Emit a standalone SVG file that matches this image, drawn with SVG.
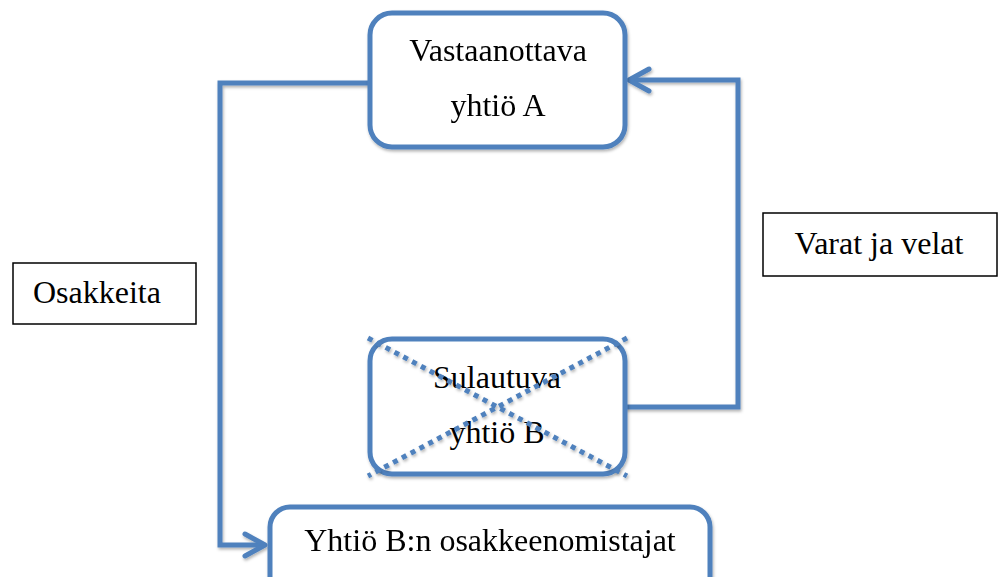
<svg xmlns="http://www.w3.org/2000/svg" width="999" height="577" viewBox="0 0 999 577">
<style>
.node{fill:#fff;stroke:#4F81BD;stroke-width:5}
.lbl{fill:#fff;stroke:#000;stroke-width:1.5}
.conn{fill:none;stroke:#4F81BD;stroke-width:5}
.x{fill:none;stroke:#4F81BD;stroke-width:5;stroke-dasharray:5 5}
text{font-family:"Liberation Serif","Times New Roman",serif;font-size:32px;fill:#000}
</style>
<defs>
<filter id="sh" x="-10%" y="-10%" width="120%" height="120%">
<feDropShadow dx="1" dy="2" stdDeviation="1.5" flood-color="#000" flood-opacity="0.3"/>
</filter>
<marker id="arr" markerUnits="userSpaceOnUse" viewBox="-25 -15 30 30" refX="0" refY="0" markerWidth="30" markerHeight="30" orient="auto">
<path d="M-20,-11 L0,0 L-20,11" fill="none" stroke="#4F81BD" stroke-width="5" stroke-linecap="round" stroke-linejoin="round"/>
</marker>
</defs>
<rect width="999" height="577" fill="#fff"/>
<g id="connectors" filter="url(#sh)">
<path class="conn" d="M372,83 H220 V545 H265" marker-end="url(#arr)"/>
<path class="conn" d="M624,407 H738 V80 H629" marker-end="url(#arr)"/>
</g>
<g id="nodeA" filter="url(#sh)">
<rect class="node" x="370" y="13" width="255" height="134" rx="22"/>
<text x="498" y="61" text-anchor="middle">Vastaanottava</text>
<text x="498" y="116" text-anchor="middle">yhtiö A</text>
</g>
<g id="nodeB">
<rect class="node" x="370" y="339" width="255" height="135" rx="22" filter="url(#sh)"/>
<text x="497" y="388" text-anchor="middle">Sulautuva</text>
<text x="497" y="443" text-anchor="middle">yhtiö B</text>
<g filter="url(#sh)">
<line class="x" x1="368" y1="338" x2="627" y2="476"/>
<line class="x" x1="627" y1="338" x2="368" y2="476"/>
</g>
</g>
<g id="nodeC" filter="url(#sh)">
<rect class="node" x="270" y="507" width="440" height="95" rx="20"/>
<text x="490" y="551" text-anchor="middle">Yhtiö B:n osakkeenomistajat</text>
</g>
<g id="labelOsakkeita">
<rect class="lbl" x="13" y="263" width="183" height="61"/>
<text x="33" y="303">Osakkeita</text>
</g>
<g id="labelVarat">
<rect class="lbl" x="763" y="213" width="234" height="63"/>
<text x="879" y="254" text-anchor="middle">Varat ja velat</text>
</g>
</svg>
